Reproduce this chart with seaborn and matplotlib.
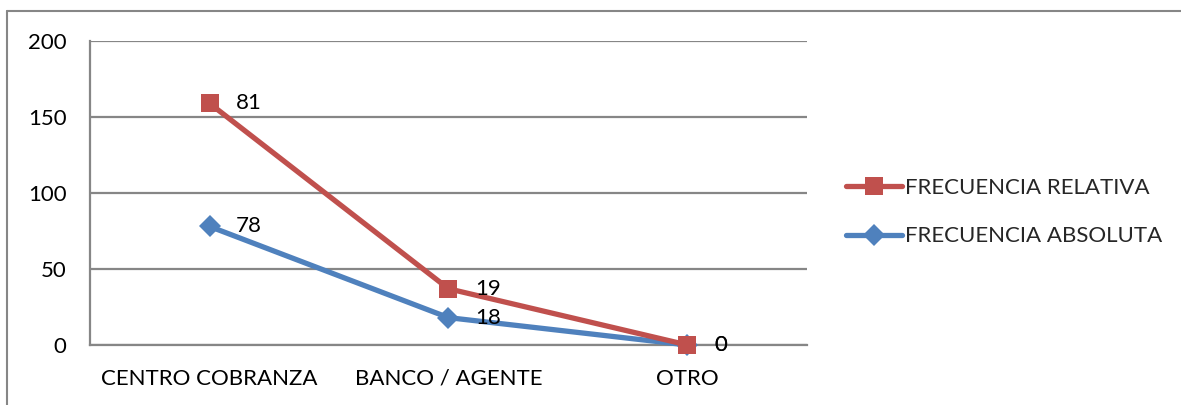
import matplotlib
matplotlib.use("Agg")
import matplotlib.pyplot as plt
import seaborn as sns
import pandas as pd
from matplotlib.lines import Line2D

categories = ["CENTRO COBRANZA", "BANCO / AGENTE", "OTRO"]
absoluta = [78, 18, 0]
relativa = [81, 19, 0]
yticks = [0, 50, 100, 150, 200]

sns.set_theme(style="white")
plt.rcParams['font.family'] = ['Lato', 'DejaVu Sans']

RED = "#C0504D"
BLUE = "#4F81BD"
GRID = "#868686"
FS = 16

stack_rel = [a + r for a, r in zip(absoluta, relativa)]
df_abs = pd.DataFrame({"cat": categories, "val": absoluta, "lab": absoluta})
df_rel = pd.DataFrame({"cat": categories, "val": stack_rel, "lab": relativa})

fig = plt.figure(figsize=(11.81, 4.05), dpi=100)
ax = fig.add_axes([90/1181, 60/405, 717/1181, 304/405])

sns.lineplot(data=df_abs, x="cat", y="val", ax=ax, color=BLUE, lw=3.8,
             marker="D", markersize=11, markeredgewidth=0, sort=False, zorder=3,
             clip_on=False)
sns.lineplot(data=df_rel, x="cat", y="val", ax=ax, color=RED, lw=3.8,
             marker="s", markersize=13, markeredgewidth=0, sort=False, zorder=4,
             clip_on=False)

for df in (df_abs, df_rel):
    for i, (v, l) in enumerate(zip(df["val"], df["lab"])):
        ax.annotate(str(l), (i, v), xytext=(19, 0), textcoords="offset points",
                    ha="left", va="center", fontsize=FS, color="black", zorder=5)

ax.set_xlim(-0.5, 2.5)
ax.set_ylim(0, 200)
ax.set_yticks(yticks)
ax.set_yticklabels([str(t) for t in yticks])
ax.set_xlabel("")
ax.set_ylabel("")
ax.grid(axis="y", color=GRID, lw=1.6)
ax.grid(axis="x", visible=False)
for s in ["top", "right"]:
    ax.spines[s].set_visible(False)
for s in ["left", "bottom"]:
    ax.spines[s].set_color(GRID)
    ax.spines[s].set_linewidth(1.6)
ax.tick_params(axis="both", length=0, labelsize=FS, colors="black")
ax.tick_params(axis="y", pad=17)
ax.tick_params(axis="x", pad=17)

handles = [
    Line2D([], [], color=RED, lw=3.8, marker="s", markersize=13, markeredgewidth=0),
    Line2D([], [], color=BLUE, lw=3.8, marker="D", markersize=11, markeredgewidth=0),
]
fig.legend(handles, ["FRECUENCIA RELATIVA", "FRECUENCIA ABSOLUTA"],
           loc="center left", bbox_to_anchor=(826/1181, 1 - 212/405), frameon=False,
           fontsize=FS, handlelength=2.5, handletextpad=0.15, labelspacing=1.3)

# outer chart frame (top and left edges visible)
fig.add_artist(Line2D([7/1181, 7/1181], [0, 1 - 11/405], transform=fig.transFigure,
                      color=GRID, lw=1.5))
fig.add_artist(Line2D([7/1181, 1], [1 - 11/405, 1 - 11/405], transform=fig.transFigure,
                      color=GRID, lw=1.5))

fig.savefig("out.png", dpi=100, facecolor="white")
